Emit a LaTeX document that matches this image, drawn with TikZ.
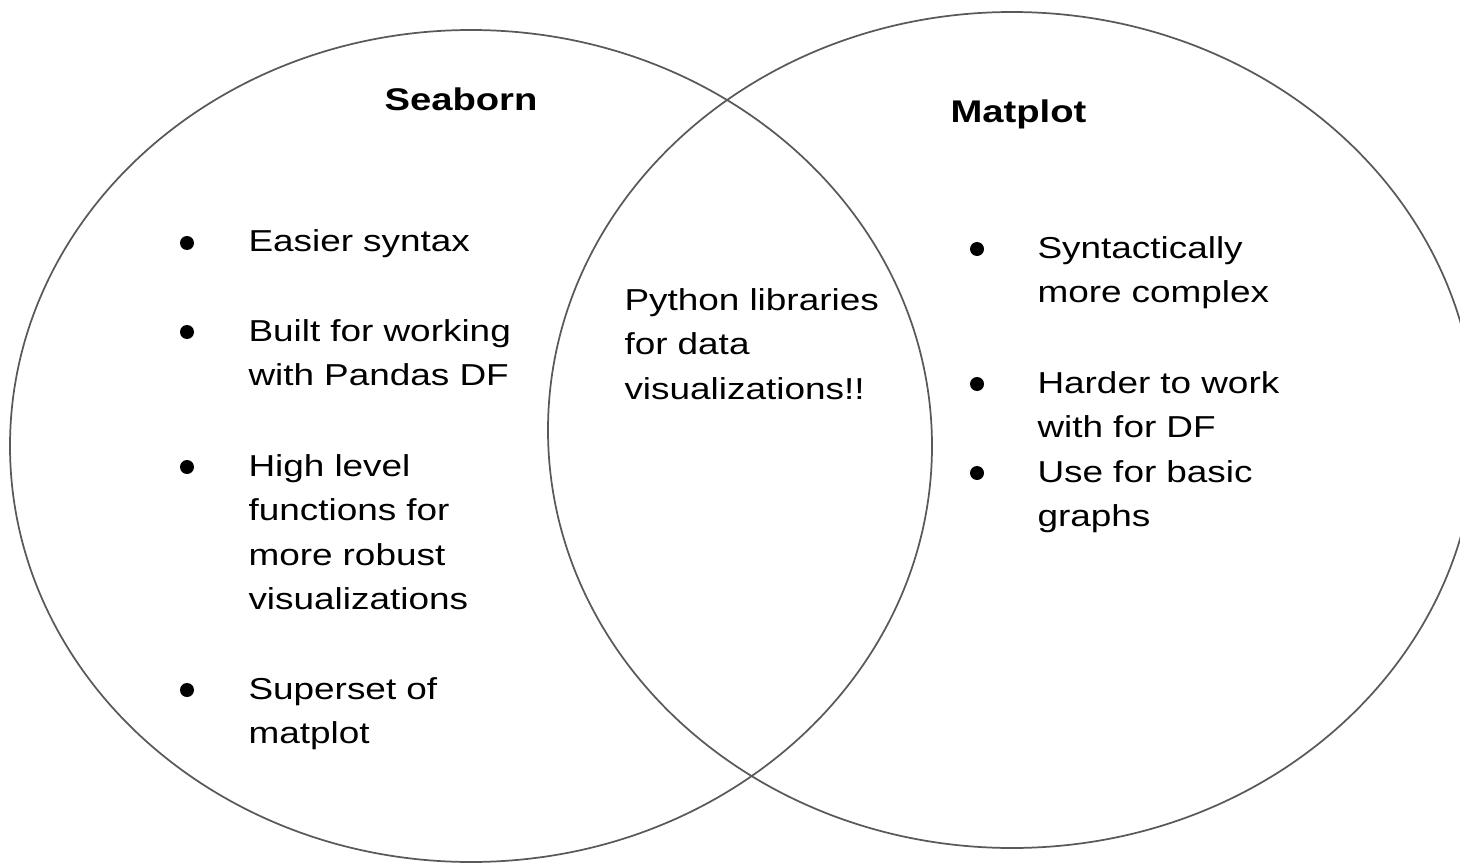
\documentclass[tikz,border=0pt]{standalone}
\usepackage{fontspec}
\setmainfont{Liberation Sans}[FakeStretch=1.22]

\tikzset{every picture/.style={line width=0.75pt}}
\tikzset{
  ring/.style={draw={rgb, 255:red, 89; green, 89; blue, 89 }, line width=1.3pt},
  title/.style={anchor=base west, inner sep=0pt, font=\bfseries\fontsize{23.5}{28}\selectfont},
  listitem/.style={anchor=base west, inner sep=0pt, text width=300pt, align=left, font=\fontsize{22.7}{33.4}\selectfont},
  bulletdot/.style={circle, fill={rgb, 255:red, 0; green, 0; blue, 0 }, inner sep=0pt, minimum size=10.5pt}
}

\begin{document}
\begin{tikzpicture}[x=0.75pt,y=0.75pt,yscale=-1,xscale=1]
\useasboundingbox (0,0) rectangle (1460,863);
\clip (0,0) rectangle (1460,863);

%Shape: Ellipse [id:seaborn]
\draw [ring] (10,446) .. controls (10,216.2) and (216.4,30) .. (471,30) .. controls (725.6,30) and (932,216.2) .. (932,446) .. controls (932,675.8) and (725.6,862) .. (471,862) .. controls (216.4,862) and (10,675.8) .. (10,446) -- cycle ;
%Shape: Ellipse [id:matplot]
\draw [ring] (548,430) .. controls (548,199.1) and (755.7,12) .. (1012,12) .. controls (1268.3,12) and (1476,199.1) .. (1476,430) .. controls (1476,660.9) and (1268.3,848) .. (1012,848) .. controls (755.7,848) and (548,660.9) .. (548,430) -- cycle ;

% Text Node
\draw (384,111) node (seaborn) [title] {Seaborn};
% Text Node
\draw (950,123) node (matplot) [title] {Matplot};

%Bullets left
\draw (187,243) node (dotA) [bulletdot] {};
\draw (187,332) node (dotB) [bulletdot] {};
\draw (187,467) node (dotC) [bulletdot] {};
\draw (187,690) node (dotD) [bulletdot] {};
% Text Node
\draw (248,252) node (easier) [listitem] {Easier syntax};
% Text Node
\draw (248,341) node (built) [listitem] {Built for working\\with Pandas DF};
% Text Node
\draw (248,476) node (highlevel) [listitem] {High level\\functions for\\more robust\\visualizations};
% Text Node
\draw (248,699) node (superset) [listitem] {Superset of\\matplot};

% Text Node
\draw (624,310) node (python) [listitem] {Python libraries\\for data\\visualizations!!};

%Bullets right
\draw (977,249) node (dotE) [bulletdot] {};
\draw (977,384) node (dotF) [bulletdot] {};
\draw (977,473) node (dotG) [bulletdot] {};
% Text Node
\draw (1037,258) node (syntactic) [listitem] {Syntactically\\more complex};
% Text Node
\draw (1037,393) node (harder) [listitem] {Harder to work\\with for DF};
% Text Node
\draw (1037,482) node (basic) [listitem] {Use for basic\\graphs};
\end{tikzpicture}
\end{document}
